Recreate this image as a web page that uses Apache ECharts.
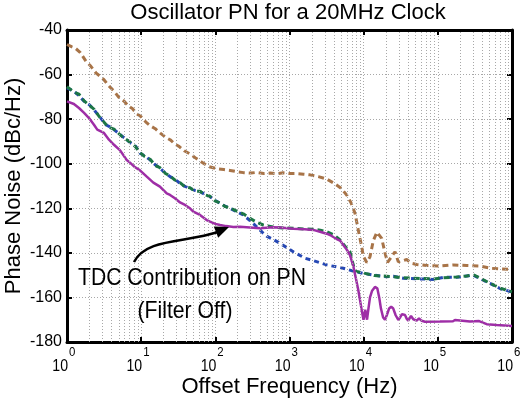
<!DOCTYPE html>
<html><head><meta charset="utf-8">
<script src="https://cdn.jsdelivr.net/npm/echarts@6/dist/echarts.min.js"></script>
<style>html,body{margin:0;padding:0;background:#fff}#c{width:527px;height:405px}</style>
</head><body><div id="c"></div>
<script>
const titleText = 'Oscillator PN for a 20MHz Clock';
const xName = 'Offset Frequency (Hz)';
const yName = 'Phase Noise (dBc/Hz)';
const noteLine1 = 'TDC Contribution on PN';
const noteLine2 = '(Filter Off)';
const xTickBase = '10';
const xTickExps = [0, 1, 2, 3, 4, 5, 6];
const minorMults = [2, 3, 4, 5, 6, 7, 8, 9];
const seriesNames = ['Oscillator A', 'Oscillator B', 'Oscillator C', 'TDC Contribution'];

const brownPN = [[1,-46.5],[1.15,-47.5],[1.3,-48.2],[1.5,-50],[1.8,-54],[2.1,-56.3],[2.45,-59.2],[2.8,-60.8],[3.15,-62.3],[3.7,-65.2],[4.3,-67.4],[5,-70.2],[5.9,-72],[6.8,-74.3],[7.6,-75.2],[8.7,-77.6],[9.9,-78.8],[11.5,-81.2],[13.3,-83],[15.5,-84.3],[18.3,-86.4],[21.5,-88.2],[25,-89.4],[28.5,-91.2],[32.4,-92.2],[38,-94.2],[45.5,-95.6],[55,-97.6],[65,-99.2],[80,-101.2],[104,-102.2],[130,-102.6],[158,-103],[200,-103.6],[240,-104],[300,-104.2],[360,-103.9],[450,-104.4],[550,-104.2],[680,-104.5],[825,-104.1],[1000,-104.4],[1250,-104.4],[1550,-104.7],[1890,-105],[2450,-105.8],[3170,-106.9],[4000,-108.8],[4950,-111],[5900,-114],[6750,-117.5],[7640,-122.2],[8460,-129.7],[9400,-137.2],[9900,-141.5],[11000,-144.3],[12170,-141.7],[13490,-134.5],[15130,-130.7],[17500,-133.5],[19380,-140],[21000,-144.3],[23870,-141.7],[26440,-139.5],[29300,-144],[34200,-143.5],[38000,-143],[44400,-144.7],[51800,-145.2],[70800,-145.7],[107000,-145.9],[161600,-145.4],[244800,-145.7],[370000,-145.9],[505000,-146.9],[689000,-147.2],[1000000,-147.4]];

const bluePN = [[1,-66],[1.24,-67.5],[1.45,-69.5],[1.7,-72],[2,-73.5],[2.31,-75.8],[2.85,-79.5],[3.32,-82.5],[3.8,-83.5],[4.3,-84.7],[5.57,-87.7],[7.22,-90.7],[8.44,-92.2],[9.64,-95.3],[11.2,-96.5],[13.2,-98.3],[15.5,-100.5],[17.9,-102],[21,-104],[24.5,-105.8],[28.5,-107],[33.4,-108.8],[39,-110.2],[45.5,-111],[53,-112],[62.1,-112.5],[73,-113.8],[84.8,-114.8],[100,-116.5],[116,-117.8],[135,-119],[158,-120],[194,-121.5],[238,-123],[293,-125.5],[361,-128.3],[443,-131.2],[492,-132.5],[604,-134],[745,-135.7],[1125,-139.5],[1618,-142.4],[2094,-143.5],[3170,-145.4],[5310,-146.9],[7640,-148.4],[9890,-149.2],[14000,-150],[20400,-150.7],[25100,-150.5],[34200,-151.4],[57400,-151.7],[86900,-151.9],[118000,-151],[179000,-151],[245000,-150.4],[301000,-150],[370000,-151.5],[505000,-153.7],[689000,-156],[1000000,-157.6]];

const greenPN = [[1,-65.5],[1.24,-67.8],[1.45,-68.8],[1.7,-71.8],[2,-73.8],[2.31,-75.5],[2.85,-79.8],[3.32,-82.2],[3.8,-83.8],[4.3,-84.5],[5.57,-87.9],[7.22,-90.5],[8.44,-92.5],[9.64,-95],[11.2,-96.8],[13.2,-98],[15.5,-100.8],[17.9,-101.8],[21,-104.3],[24.5,-105.5],[28.5,-107.3],[33.4,-108.5],[39,-110.4],[45.5,-110.8],[53,-112.3],[62.1,-112.3],[73,-114],[84.8,-114.6],[100,-116.8],[116,-117.6],[135,-119.2],[158,-119.8],[194,-121.3],[238,-122.5],[293,-124.5],[361,-126.3],[443,-127.5],[604,-128.4],[800,-128.8],[1125,-129],[1600,-129.3],[2094,-129.4],[2600,-129.8],[3170,-130.5],[4000,-132],[4800,-134.2],[5600,-137],[6540,-139.5],[7000,-143.5],[7640,-148.2],[9890,-149],[14000,-150.2],[20400,-150.5],[25100,-150.7],[34200,-151.2],[57400,-151.5],[86900,-151.7],[118000,-151.2],[179000,-150.8],[245000,-150.4],[301000,-149.8],[370000,-151.3],[505000,-153.6],[689000,-155.8],[1000000,-157.5]];

const purplePN = [[1,-72],[1.24,-73.2],[1.45,-75],[1.7,-77.2],[1.98,-79.5],[2.31,-82.5],[2.56,-84.7],[3.15,-86.2],[3.68,-89.2],[4.3,-91.5],[5.2,-94],[6.38,-98.3],[7.07,-99.5],[8.2,-101.5],[9.64,-103],[11.9,-105.8],[14.6,-108.5],[17.9,-110.3],[22.1,-113.3],[24.5,-114],[28.5,-115.5],[33.4,-117.4],[39,-118.5],[45.5,-120],[50.5,-121.5],[62.1,-123],[76.4,-125.3],[84.8,-126],[100,-127],[116,-127.5],[140,-128],[175,-128.4],[215,-128.3],[293,-128.6],[400,-129],[443,-128.8],[600,-128.5],[745,-128.6],[1125,-129.2],[1600,-129.4],[2094,-129.7],[2577,-130.5],[3170,-131.4],[3515,-132],[4330,-133.8],[4800,-134.5],[5600,-137.5],[5900,-138.5],[6540,-141],[7250,-146],[7800,-151],[8460,-156.7],[9400,-165.6],[9950,-170],[10500,-165.5],[11100,-170],[11600,-165],[12170,-160],[13000,-157],[14200,-155.3],[15270,-155.9],[16200,-160],[17100,-165],[18300,-169],[19380,-170],[20500,-168],[22000,-165],[23500,-164.2],[25070,-165],[27000,-168],[29300,-170.1],[31000,-169],[32870,-167.5],[36060,-167.9],[38000,-169.5],[39960,-170.4],[43480,-168.3],[46700,-169.8],[51800,-170.4],[55700,-169.4],[60570,-170.5],[67100,-170.9],[107000,-170.8],[160000,-170.7],[170400,-170.1],[180000,-170.7],[271000,-170.8],[360000,-170.6],[370000,-169.8],[380000,-170.7],[456000,-172],[621000,-172.4],[1000000,-172.8]];

const minorX = [];
xTickExps.slice(0, -1).forEach(e => minorMults.forEach(m => minorX.push(m * Math.pow(10, e))));

const FAM = '"Liberation Sans", Arial, Helvetica, sans-serif';
const mctx = document.createElement('canvas').getContext('2d');
function tw(text, size) { mctx.font = size + 'px ' + FAM; return mctx.measureText(text).width; }

const chart = echarts.init(document.getElementById('c'), null, {renderer: 'canvas'});
const gridLine = {color: '#a8a8a8', type: [1, 2], width: 1};
const frame = {show: true, onZero: false, lineStyle: {color: '#000', width: 3}};
const inTick = {show: true, inside: true, length: 5, lineStyle: {color: '#000', width: 2}};
const dashed = (color, d) => ({color: color, width: 3, type: d, cap: 'butt'});
const logX = {type: 'log', logBase: 10, min: 1, max: 1e6};

const N_SIZE = 24;
const n1Scale = 228 / tw(noteLine1, N_SIZE);
const n2Scale = 95 / tw(noteLine2, N_SIZE);
const XB_SIZE = 17;
const xbScale = 15.7 / tw(xTickBase, XB_SIZE);

const staticGraphic = [
  {type: 'text', z: 100, x: 192, y: 278, scaleX: n1Scale, style: {text: noteLine1, fontFamily: FAM, fontSize: N_SIZE, fill: '#000', align: 'center', verticalAlign: 'middle'}},
  {type: 'text', z: 100, x: 185, y: 311, scaleX: n2Scale, style: {text: noteLine2, fontFamily: FAM, fontSize: N_SIZE, fill: '#000', align: 'center', verticalAlign: 'middle'}},
  {type: 'bezierCurve', z: 100, shape: {x1: 134, y1: 262, cpx1: 146, cpy1: 238, cpx2: 185, cpy2: 243, x2: 218, y2: 232},
    style: {stroke: '#000', lineWidth: 2.5, fill: null}},
  {type: 'polygon', z: 100, shape: {points: [[229, 227], [213.8, 226.6], [218.2, 237.8]]}, style: {fill: '#000'}}
];

chart.setOption({
  animation: false,
  backgroundColor: '#fff',
  title: {text: titleText, left: 288, top: 2, textAlign: 'center', padding: 0,
    textStyle: {fontFamily: FAM, fontSize: 22, fontWeight: 'normal', color: '#000'}},
  grid: {left: 67, right: 15, top: 30, bottom: 63, containLabel: false, outerBoundsMode: 'none'},
  xAxis: [Object.assign({}, logX, {
    position: 'bottom',
    name: xName, nameLocation: 'middle', nameGap: 34, nameMoveOverlap: false,
    nameTextStyle: {fontFamily: FAM, fontSize: 22, color: '#000'},
    axisLine: frame, axisTick: inTick,
    splitLine: {show: true, lineStyle: gridLine},
    axisLabel: {show: false}
  }), Object.assign({}, logX, {
    position: 'top',
    axisLine: frame, axisLabel: {show: false}, splitLine: {show: false}, axisTick: inTick
  })],
  yAxis: [{
    type: 'value', min: -180, max: -40, interval: 20, position: 'left',
    name: yName, nameLocation: 'middle', nameGap: 42, nameMoveOverlap: false,
    nameTextStyle: {fontFamily: FAM, fontSize: 22, color: '#000'},
    axisLine: frame, axisTick: inTick,
    splitLine: {show: true, lineStyle: gridLine},
    axisLabel: {margin: 5, fontFamily: FAM, fontSize: 16, color: '#000'}
  }, {
    type: 'value', min: -180, max: -40, interval: 20, position: 'right',
    axisLine: frame, axisLabel: {show: false}, splitLine: {show: false}, axisTick: inTick
  }],
  series: [
    {type: 'line', name: 'grid', data: [[1, -40]], symbol: 'none', silent: true,
      lineStyle: {opacity: 0},
      markLine: {silent: true, symbol: ['none', 'none'], label: {show: false}, animation: false,
        lineStyle: gridLine, emphasis: {disabled: true},
        data: minorX.map(v => ({xAxis: v}))}},
    {type: 'line', name: seriesNames[0], data: brownPN, symbol: 'none', lineStyle: dashed('#a87448', [6, 4])},
    {type: 'line', name: seriesNames[1], data: bluePN, symbol: 'none', lineStyle: dashed('#2648b4', [5, 4])},
    {type: 'line', name: seriesNames[2], data: greenPN, symbol: 'none', lineStyle: dashed('#1c7645', [6, 4])},
    {type: 'line', name: seriesNames[3], data: purplePN, symbol: 'none', lineStyle: {color: '#9e2ea6', width: 2.5}}
  ],
  graphic: staticGraphic
});

// x tick labels "10^n": position taken from the library's own log scale
const yBottom = chart.convertToPixel({yAxisIndex: 0}, -180);
const tickLabels = [];
xTickExps.forEach(n => {
  const px = chart.convertToPixel({xAxisIndex: 0}, Math.pow(10, n));
  tickLabels.push({type: 'text', z: 100, x: px + 1, y: yBottom + 24, scaleX: xbScale,
    style: {text: xTickBase, fontFamily: FAM, fontSize: XB_SIZE, fill: '#000', align: 'right', verticalAlign: 'middle'}});
  tickLabels.push({type: 'text', z: 100, x: px + 2, y: yBottom + 10, scaleX: 0.88,
    style: {text: String(n), fontFamily: FAM, fontSize: 13, fill: '#000', align: 'left', verticalAlign: 'middle'}});
});
chart.setOption({graphic: staticGraphic.concat(tickLabels)});
</script></body></html>
